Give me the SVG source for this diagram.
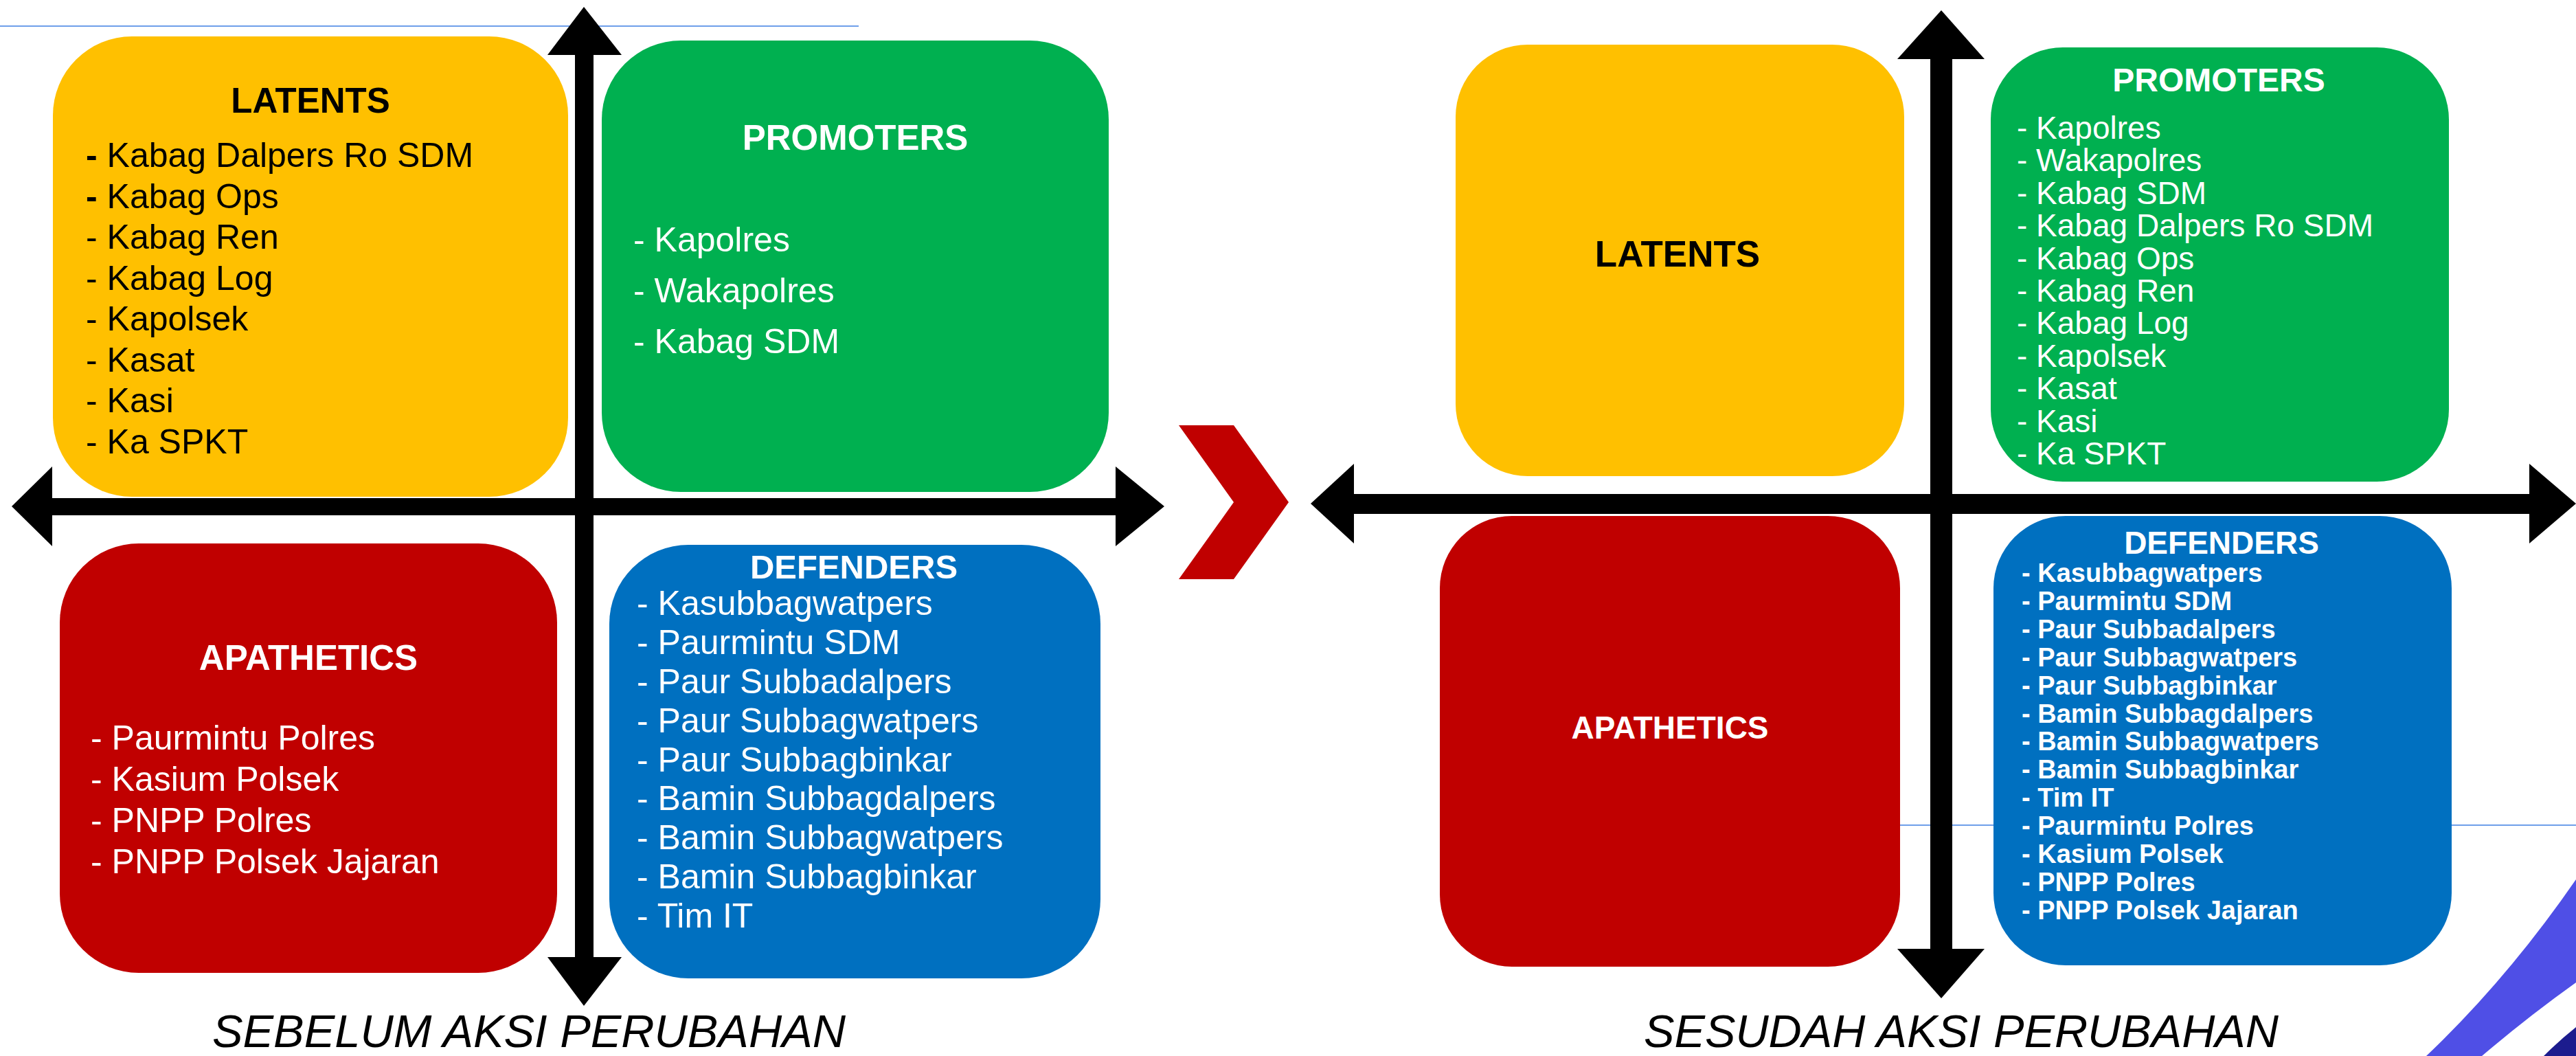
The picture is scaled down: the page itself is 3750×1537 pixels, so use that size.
<svg xmlns="http://www.w3.org/2000/svg" width="3750" height="1537" viewBox="0 0 3750 1537">
<style>
  .t { font-family: "Liberation Sans", Arial, sans-serif; }
  .title { font-family: "Liberation Sans", Arial, sans-serif; font-weight: bold; text-anchor: middle; }
  .dark { fill: #000000; }
  .light { fill: #FFFFFF; }
  .item { font-family: "Liberation Sans", Arial, sans-serif; font-size: 50px; }
  .itemR { font-family: "Liberation Sans", Arial, sans-serif; }
  .ax { fill: #000000; }
  .caption { font-family: "Liberation Sans", Arial, sans-serif; font-style: italic; font-size: 66px; fill: #000000; text-anchor: middle; }
  .yellow { fill: #FFC000; }
  .green { fill: #00B050; }
  .red { fill: #C00000; }
  .blue { fill: #0070C0; }
  .guide { stroke: #6F9FEA; stroke-width: 2; fill: none; }
</style>

<!-- background guide lines -->
<line class="guide" x1="0" y1="38" x2="1250" y2="38"/>
<line class="guide" x1="2766" y1="1201" x2="3750" y2="1201"/>

<!-- decorative corner arc -->
<g id="corner-arc">
  <path d="M3750,1280 Q3650,1425 3532,1537 L3613,1537 Q3680,1480 3750,1430 Z" fill="#4F4FE6"/>
  <path d="M3703,1537 Q3726,1514 3750,1495 L3750,1537 Z" fill="#1C1C8E"/>
</g>

<!-- axes (connectors) -->
<g id="connectors">
  <g id="axes-before">
    <rect class="ax" x="76" y="725" width="1548" height="25"/>
    <polygon class="ax" points="17,737 76,679 76,795"/>
    <polygon class="ax" points="1695,737 1624,679 1624,795"/>
    <rect class="ax" x="837" y="80" width="27" height="1313"/>
    <polygon class="ax" points="850,10 797,80 905,80"/>
    <polygon class="ax" points="850,1464 797,1393 905,1393"/>
  </g>
  <g id="axes-after">
    <rect class="ax" x="1971" y="719" width="1711" height="29"/>
    <polygon class="ax" points="1908,733 1971,675 1971,791"/>
    <polygon class="ax" points="3750,733 3682,675 3682,791"/>
    <rect class="ax" x="2810" y="86" width="32" height="1295"/>
    <polygon class="ax" points="2826,15 2762,86 2889,86"/>
    <polygon class="ax" points="2826,1453 2762,1381 2889,1381"/>
  </g>
  <polygon id="chevron" points="1716,619 1796,619 1876,731 1796,843 1716,843 1796,731" fill="#C00000"/>
</g>

<!-- BEFORE -->
<g id="latents-before">
  <rect class="yellow" x="77" y="53" width="750" height="670" rx="115" ry="115"/>
  <text class="title dark" x="452" y="164" font-size="51">LATENTS</text>
  <g class="item dark">
    <text x="125" y="243"><tspan font-weight="bold">-</tspan> Kabag Dalpers Ro SDM</text>
    <text x="125" y="303"><tspan font-weight="bold">-</tspan> Kabag Ops</text>
    <text x="125" y="362">- Kabag Ren</text>
    <text x="125" y="422">- Kabag Log</text>
    <text x="125" y="481">- Kapolsek</text>
    <text x="125" y="541">- Kasat</text>
    <text x="125" y="600">- Kasi</text>
    <text x="125" y="660">- Ka SPKT</text>
  </g>
</g>

<g id="promoters-before">
  <rect class="green" x="876" y="59" width="738" height="657" rx="115" ry="115"/>
  <text class="title light" x="1245" y="218" font-size="51">PROMOTERS</text>
  <g class="item light">
    <text x="922" y="366">- Kapolres</text>
    <text x="922" y="440">- Wakapolres</text>
    <text x="922" y="514">- Kabag SDM</text>
  </g>
</g>

<g id="apathetics-before">
  <rect class="red" x="87" y="791" width="724" height="625" rx="115" ry="115"/>
  <text class="title light" x="449" y="975" font-size="51">APATHETICS</text>
  <g class="item light">
    <text x="132" y="1091">- Paurmintu Polres</text>
    <text x="132" y="1151">- Kasium Polsek</text>
    <text x="132" y="1211">- PNPP Polres</text>
    <text x="132" y="1271">- PNPP Polsek Jajaran</text>
  </g>
</g>

<g id="defenders-before">
  <rect class="blue" x="887" y="793" width="715" height="631" rx="115" ry="115"/>
  <text class="title light" x="1243" y="842" font-size="49">DEFENDERS</text>
  <g class="item light">
    <text x="927" y="895">- Kasubbagwatpers</text>
    <text x="927" y="952">- Paurmintu SDM</text>
    <text x="927" y="1009">- Paur Subbadalpers</text>
    <text x="927" y="1066">- Paur Subbagwatpers</text>
    <text x="927" y="1123">- Paur Subbagbinkar</text>
    <text x="927" y="1179">- Bamin Subbagdalpers</text>
    <text x="927" y="1236">- Bamin Subbagwatpers</text>
    <text x="927" y="1293">- Bamin Subbagbinkar</text>
    <text x="927" y="1350">- Tim IT</text>
  </g>
</g>

<text id="caption-before" class="caption" x="770" y="1524" textLength="922" lengthAdjust="spacingAndGlyphs">SEBELUM AKSI PERUBAHAN</text>

<!-- AFTER -->
<g id="latents-after">
  <rect class="yellow" x="2119" y="65" width="653" height="628" rx="105" ry="105"/>
  <text class="title dark" x="2442" y="388" font-size="53">LATENTS</text>
</g>

<g id="promoters-after">
  <rect class="green" x="2898" y="69" width="667" height="632" rx="105" ry="105"/>
  <text class="title light" x="3230" y="133" font-size="48">PROMOTERS</text>
  <g class="itemR light" font-size="46">
    <text x="2936" y="202">- Kapolres</text>
    <text x="2936" y="249">- Wakapolres</text>
    <text x="2936" y="297">- Kabag SDM</text>
    <text x="2936" y="344">- Kabag Dalpers Ro SDM</text>
    <text x="2936" y="392">- Kabag Ops</text>
    <text x="2936" y="439">- Kabag Ren</text>
    <text x="2936" y="486">- Kabag Log</text>
    <text x="2936" y="534">- Kapolsek</text>
    <text x="2936" y="581">- Kasat</text>
    <text x="2936" y="629">- Kasi</text>
    <text x="2936" y="676">- Ka SPKT</text>
  </g>
</g>

<g id="apathetics-after">
  <rect class="red" x="2096" y="751" width="670" height="656" rx="105" ry="105"/>
  <text class="title light" x="2431" y="1075" font-size="46">APATHETICS</text>
</g>

<g id="defenders-after">
  <rect class="blue" x="2902" y="751" width="667" height="654" rx="105" ry="105"/>
  <text class="title light" x="3234" y="806" font-size="46">DEFENDERS</text>
  <g class="itemR light" font-size="38" font-weight="bold">
    <text x="2943" y="847">- Kasubbagwatpers</text>
    <text x="2943" y="888">- Paurmintu SDM</text>
    <text x="2943" y="929">- Paur Subbadalpers</text>
    <text x="2943" y="970">- Paur Subbagwatpers</text>
    <text x="2943" y="1011">- Paur Subbagbinkar</text>
    <text x="2943" y="1052">- Bamin Subbagdalpers</text>
    <text x="2943" y="1092">- Bamin Subbagwatpers</text>
    <text x="2943" y="1133">- Bamin Subbagbinkar</text>
    <text x="2943" y="1174">- Tim IT</text>
    <text x="2943" y="1215">- Paurmintu Polres</text>
    <text x="2943" y="1256">- Kasium Polsek</text>
    <text x="2943" y="1297">- PNPP Polres</text>
    <text x="2943" y="1338">- PNPP Polsek Jajaran</text>
  </g>
</g>

<text id="caption-after" class="caption" x="2855" y="1524" textLength="924" lengthAdjust="spacingAndGlyphs">SESUDAH AKSI PERUBAHAN</text>
</svg>
